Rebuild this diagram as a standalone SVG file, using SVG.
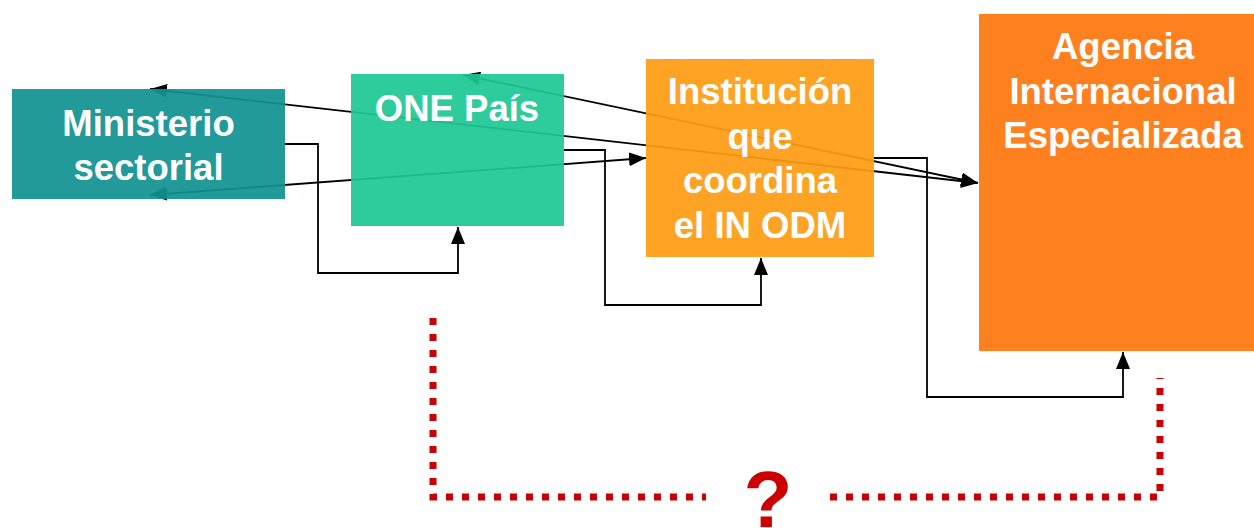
<svg xmlns="http://www.w3.org/2000/svg" width="1254" height="528" viewBox="0 0 1254 528">
<style>
.box{fill-opacity:0.93}
.lbl{font-family:"Liberation Sans",Arial,sans-serif;font-weight:bold;font-size:36.5px;fill:#ffffff;text-anchor:middle}
.c{fill:none;stroke:#000;stroke-width:1.8}
.red{fill:none;stroke:#cc0000;stroke-width:7;stroke-dasharray:7 9}
</style>
<defs>
<marker id="ah" markerUnits="userSpaceOnUse" viewBox="0 0 17 14" markerWidth="17" markerHeight="14" refX="17" refY="7" orient="auto-start-reverse">
<path d="M0,0 L17,7 L0,14 z" fill="#000"/>
</marker>
</defs>
<rect width="1254" height="528" fill="#fff"/>
<g id="connectors">
<polyline class="c" points="285,144 318,144 318,273 458,273 458,227" marker-end="url(#ah)"/>
<polyline class="c" points="564,150 605,150 605,305 761,305 761,258" marker-end="url(#ah)"/>
<polyline class="c" points="874,158 927,158 927,397 1123,397 1123,352" marker-end="url(#ah)"/>
<line class="c" x1="150" y1="89" x2="978" y2="183" marker-start="url(#ah)" marker-end="url(#ah)"/>
<line class="c" x1="463" y1="75" x2="978" y2="183" marker-start="url(#ah)" marker-end="url(#ah)"/>
<line class="c" x1="150" y1="195" x2="646" y2="158" marker-start="url(#ah)" marker-end="url(#ah)"/>
<path class="red" d="M433,318 V497 H706"/>
<path class="red" d="M830,497 H1160 V378"/>
</g>
<g id="ministerio">
<rect class="box" x="12" y="89" width="273" height="110" fill="#129292"/>
<text class="lbl" x="148.5" y="136">Ministerio</text>
<text class="lbl" x="148.5" y="180">sectorial</text>
</g>
<g id="one-pais">
<rect class="box" x="351" y="74" width="213" height="152" fill="#1ec896"/>
<text class="lbl" x="457" y="121">ONE País</text>
</g>
<g id="institucion">
<rect class="box" x="646" y="59" width="228" height="198" fill="#ff9c14"/>
<text class="lbl" x="760" y="104">Institución</text>
<text class="lbl" x="760" y="149">que</text>
<text class="lbl" x="760" y="193">coordina</text>
<text class="lbl" x="760" y="238">el IN ODM</text>
</g>
<g id="agencia">
<rect class="box" x="979" y="14" width="275" height="337" fill="#ff760e"/>
<text class="lbl" x="1123" y="59">Agencia</text>
<text class="lbl" x="1123" y="104">Internacional</text>
<text class="lbl" x="1123" y="148">Especializada</text>
</g>
<g id="question">
<text x="768" y="527" font-family="'Liberation Sans',Arial,sans-serif" font-weight="bold" font-size="80" fill="#cc0000" text-anchor="middle">?</text>
</g>
</svg>
